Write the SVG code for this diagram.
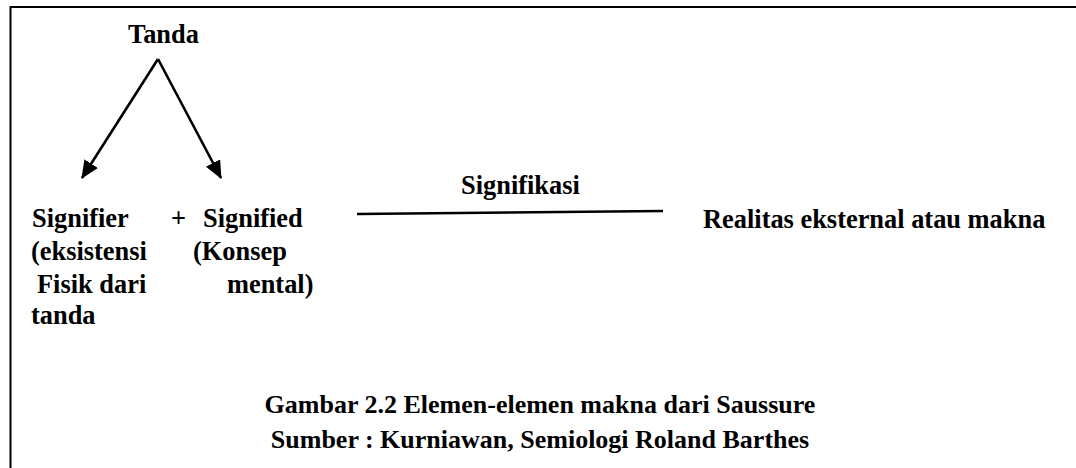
<svg xmlns="http://www.w3.org/2000/svg" width="1076" height="468" viewBox="0 0 1076 468">
  <style>
    .t { font-family: "Liberation Serif", "Times New Roman", serif; font-weight: bold; font-size: 26.4px; fill: #000; }
    .cap { font-size: 26px; text-anchor: middle; }
    .ln { stroke: #000; stroke-width: 2; fill: none; }
    .ar { stroke: #000; stroke-width: 2.6; fill: none; }
  </style>
  <defs>
    <marker id="head" viewBox="0 0 18 16" refX="17" refY="8" markerWidth="18" markerHeight="16" markerUnits="userSpaceOnUse" orient="auto">
      <path d="M0,0 L18,8 L0,16 z" fill="#000"/>
    </marker>
  </defs>

  <rect width="1076" height="468" fill="#fff"/>
  <!-- frame: only top and left edges fall inside the page -->
  <path class="ln" d="M10.5,470 V7 H1078"/>

  <g id="connectors">
    <line class="ar" x1="158" y1="59" x2="82" y2="178" marker-end="url(#head)"/>
    <line class="ar" x1="158" y1="59" x2="221" y2="178" marker-end="url(#head)"/>
    <line class="ar" x1="357" y1="214" x2="663" y2="211"/>
  </g>

  <g id="tanda">
    <text class="t" x="128" y="43">Tanda</text>
  </g>

  <g id="signifier">
    <text class="t" x="32" y="227">Signifier</text>
    <text class="t" x="31" y="260">(eksistensi</text>
    <text class="t" x="37" y="293">Fisik dari</text>
    <text class="t" x="31" y="324">tanda</text>
  </g>

  <g id="plus">
    <text class="t" x="171" y="227">+</text>
  </g>

  <g id="signified">
    <text class="t" x="203" y="227">Signified</text>
    <text class="t" x="193" y="260">(Konsep</text>
    <text class="t" x="227" y="293">mental)</text>
  </g>

  <g id="signifikasi">
    <text class="t" x="461" y="194">Signifikasi</text>
  </g>

  <g id="realitas">
    <text class="t" x="703" y="228">Realitas eksternal atau makna</text>
  </g>

  <g id="caption">
    <text class="t cap" x="540" y="413">Gambar 2.2 Elemen-elemen makna dari Saussure</text>
    <text class="t cap" x="540" y="448">Sumber : Kurniawan, Semiologi Roland Barthes</text>
  </g>
</svg>
